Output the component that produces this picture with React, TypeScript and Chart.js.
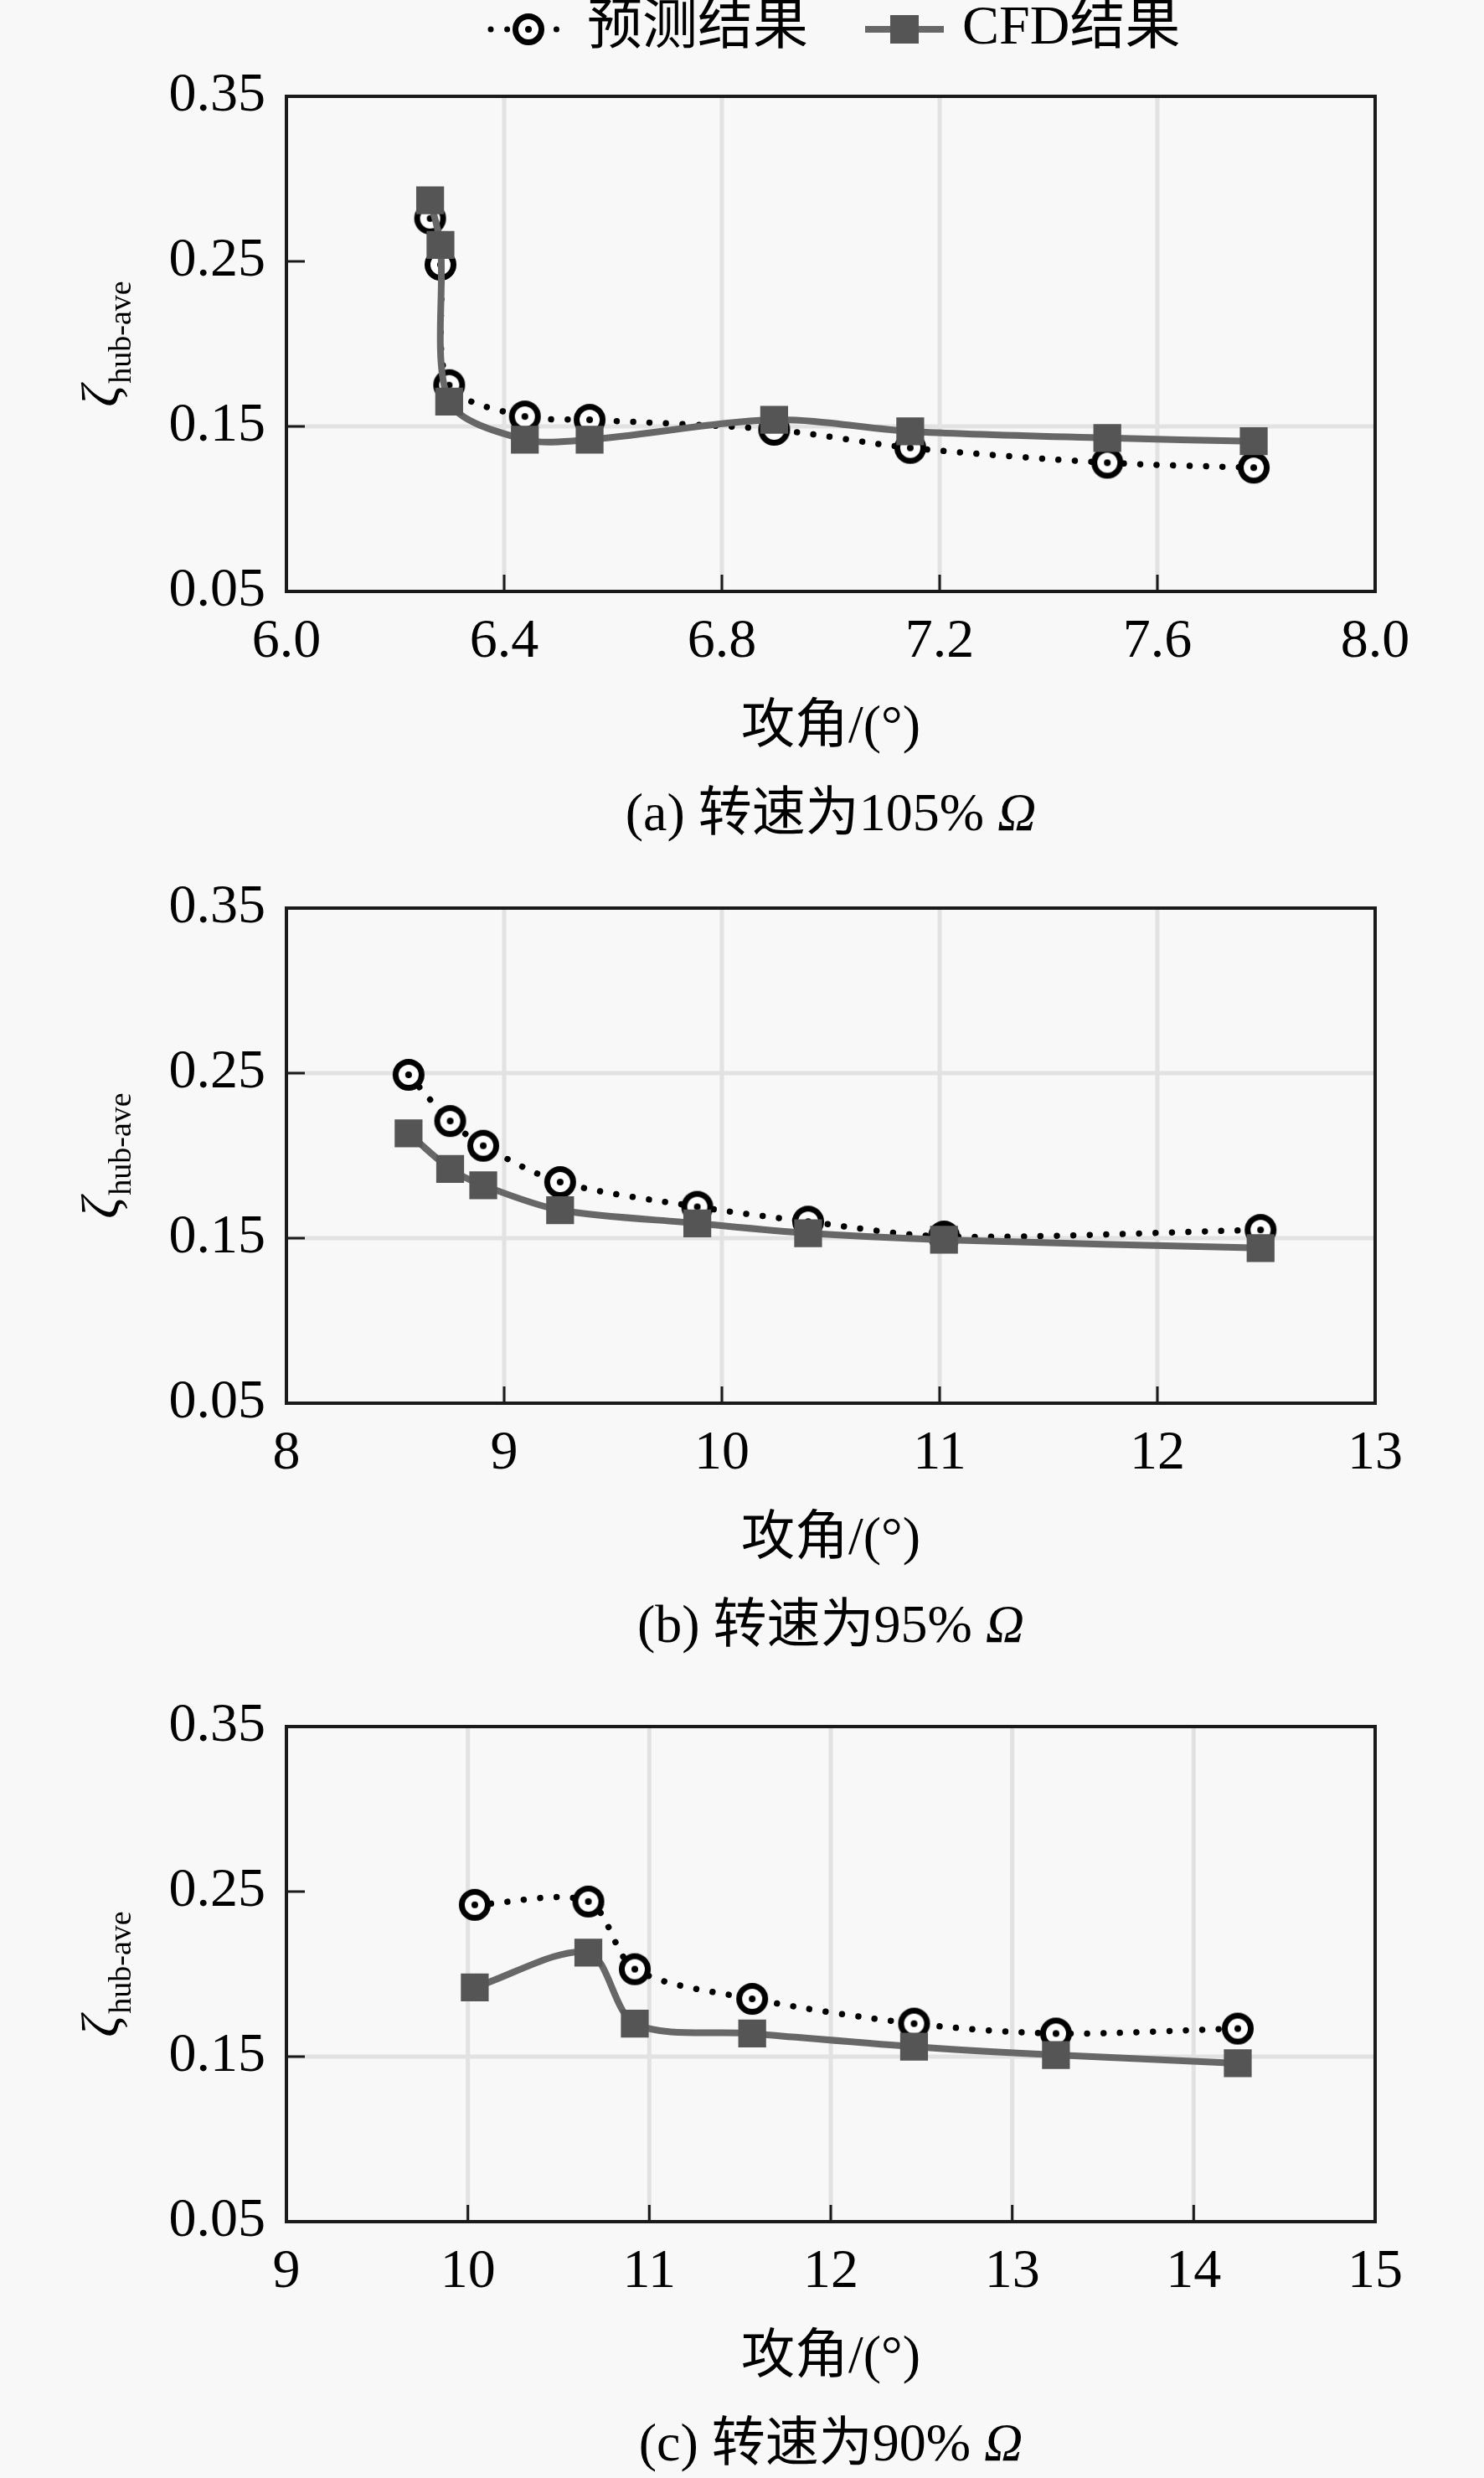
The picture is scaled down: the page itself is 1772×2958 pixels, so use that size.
import React, { useEffect, useRef } from 'react';
import { Chart, registerables } from 'chart.js';

Chart.register(...registerables);

// ---------------- data ----------------
const seriesNames = ['预测结果', 'CFD结果'];
const xTitle = '攻角/(°)';
const yTitleMain = 'ζ';
const yTitleSub = 'hub-ave';
const omega = 'Ω';

const yTicks = [0.05, 0.15, 0.25, 0.35];

// (a) 105%
const angleA = [6.264, 6.283, 6.299, 6.438, 6.557, 6.896, 7.146, 7.508, 7.777];
const predA = [0.276, 0.248, 0.175, 0.156, 0.154, 0.148, 0.137, 0.128, 0.125];
const cfdA = [0.287, 0.26, 0.165, 0.142, 0.142, 0.154, 0.147, 0.143, 0.141];
const xTicksA = [6.0, 6.4, 6.8, 7.2, 7.6, 8.0];
const captionA = '(a) 转速为105% ';

// (b) 95%
const angleB = [8.561, 8.752, 8.904, 9.257, 9.887, 10.396, 11.02, 12.474];
const predB = [0.249, 0.221, 0.206, 0.184, 0.169, 0.16, 0.151, 0.155];
const cfdB = [0.2135, 0.192, 0.182, 0.167, 0.159, 0.153, 0.149, 0.144];
const xTicksB = [8, 9, 10, 11, 12, 13];
const captionB = '(b) 转速为95% ';

// (c) 90%
const angleC = [10.038, 10.664, 10.92, 11.567, 12.459, 13.241, 14.243];
const predC = [0.242, 0.244, 0.203, 0.185, 0.17, 0.164, 0.167];
const cfdC = [0.192, 0.213, 0.17, 0.164, 0.156, 0.151, 0.146];
const xTicksC = [9, 10, 11, 12, 13, 14, 15];
const captionC = '(c) 转速为90% ';

// ---------------- styles ----------------
const SERIF = "'Liberation Serif', 'Times New Roman', 'Noto Sans CJK SC', serif";
const BG = '#f8f8f8';
const GRID = '#e2e2e2';
const FRAME = '#1a1a1a';
const CFD_LINE = '#676767';
const CFD_MARK = '#555555';
const PLOT_LEFT = 342;
const PLOT_RIGHT_PAD = 130;
const PLOT_H = 591;

type PanelCfg = {
  top: number;
  height: number;
  padTop: number;
  xs: number[];
  pred: number[];
  cfd: number[];
  xTicks: number[];
  xDecimals: number;
  yGrid: number[];
  caption: string;
  legend: boolean;
};

function makeCircleMarker(): HTMLCanvasElement {
  const c = document.createElement('canvas');
  c.width = 46;
  c.height = 46;
  const ctx = c.getContext('2d')!;
  ctx.beginPath();
  ctx.arc(23, 23, 15.5, 0, Math.PI * 2);
  ctx.fillStyle = '#ffffff';
  ctx.fill();
  ctx.lineWidth = 7;
  ctx.strokeStyle = '#000000';
  ctx.stroke();
  ctx.beginPath();
  ctx.arc(23, 23, 4, 0, Math.PI * 2);
  ctx.fillStyle = '#000000';
  ctx.fill();
  return c;
}

function Panel({ cfg }: { cfg: PanelCfg }) {
  const ref = useRef<HTMLCanvasElement>(null);

  useEffect(() => {
    const canvas = ref.current!;
    const marker = makeCircleMarker();
    const xmin = cfg.xTicks[0];
    const xmax = cfg.xTicks[cfg.xTicks.length - 1];

    const line = (ctx: CanvasRenderingContext2D, x1: number, y1: number, x2: number, y2: number) => {
      ctx.beginPath();
      ctx.moveTo(x1, y1);
      ctx.lineTo(x2, y2);
      ctx.stroke();
    };

    const plugin = {
      id: 'decor',
      beforeDatasetsDraw(chart: any) {
        const { ctx, chartArea: a, scales } = chart;
        const x = scales.x;
        const y = scales.y;
        ctx.save();
        ctx.strokeStyle = GRID;
        ctx.lineWidth = 5;
        for (const v of cfg.xTicks) {
          if (v <= xmin || v >= xmax) continue;
          const px = x.getPixelForValue(v);
          line(ctx, px, a.top, px, a.bottom);
        }
        for (const v of cfg.yGrid) {
          const py = y.getPixelForValue(v);
          line(ctx, a.left, py, a.right, py);
        }
        ctx.restore();
      },
      afterDatasetsDraw(chart: any) {
        const { ctx, chartArea: a, scales } = chart;
        const x = scales.x;
        const y = scales.y;
        ctx.save();
        ctx.strokeStyle = FRAME;
        ctx.lineWidth = 3;
        for (const v of cfg.xTicks) {
          if (v <= xmin || v >= xmax) continue;
          const px = x.getPixelForValue(v);
          line(ctx, px, a.bottom, px, a.bottom - 20);
        }
        for (const v of yTicks) {
          if (v <= yTicks[0] || v >= yTicks[yTicks.length - 1]) continue;
          const py = y.getPixelForValue(v);
          line(ctx, a.left, py, a.left + 22, py);
        }
        ctx.lineWidth = 4;
        ctx.strokeRect(a.left, a.top, a.right - a.left, a.bottom - a.top);
        ctx.restore();
      },
      afterDraw(chart: any) {
        const { ctx, chartArea: a } = chart;
        const cx = (a.left + a.right) / 2;
        const cy = (a.top + a.bottom) / 2;
        ctx.save();
        ctx.fillStyle = '#000';

        // x title
        ctx.font = `64px ${SERIF}`;
        ctx.textAlign = 'center';
        ctx.textBaseline = 'middle';
        ctx.fillText(xTitle, cx, a.bottom + 163);

        // caption with italic Omega
        ctx.textAlign = 'left';
        ctx.font = `64px ${SERIF}`;
        const w1 = ctx.measureText(cfg.caption).width;
        ctx.font = `italic 64px ${SERIF}`;
        const w2 = ctx.measureText(omega).width;
        const sx = cx - (w1 + w2) / 2;
        ctx.font = `64px ${SERIF}`;
        ctx.fillText(cfg.caption, sx, a.bottom + 268);
        ctx.font = `italic 64px ${SERIF}`;
        ctx.fillText(omega, sx + w1, a.bottom + 268);

        // y title (rotated, with subscript)
        ctx.font = `italic 64px ${SERIF}`;
        const wz = ctx.measureText(yTitleMain).width;
        ctx.font = `38px ${SERIF}`;
        const ws = ctx.measureText(yTitleSub).width;
        ctx.save();
        ctx.translate(141, cy);
        ctx.rotate(-Math.PI / 2);
        ctx.textBaseline = 'alphabetic';
        ctx.textAlign = 'left';
        const st = -(wz + ws + 2) / 2;
        ctx.font = `italic 64px ${SERIF}`;
        ctx.fillText(yTitleMain, st, 0);
        ctx.font = `38px ${SERIF}`;
        ctx.fillText(yTitleSub, st + wz + 2, 15);
        ctx.restore();

        // legend
        if (cfg.legend) {
          const ly = 35;
          ctx.save();
          ctx.strokeStyle = '#000';
          ctx.lineWidth = 7;
          ctx.lineCap = 'round';
          ctx.setLineDash([0.01, 19.6]);
          line(ctx, 586, ly, 676, ly);
          ctx.restore();
          ctx.drawImage(marker, 631 - 23, ly - 23);
          ctx.font = `66px ${SERIF}`;
          ctx.textAlign = 'left';
          ctx.textBaseline = 'middle';
          ctx.fillText(seriesNames[0], 701, ly);

          ctx.save();
          ctx.strokeStyle = CFD_LINE;
          ctx.lineWidth = 8;
          line(ctx, 1033, ly, 1127, ly);
          ctx.restore();
          ctx.fillStyle = CFD_MARK;
          ctx.fillRect(1080 - 17, ly - 17, 34, 34);
          ctx.fillStyle = '#000';
          ctx.fillText(seriesNames[1], 1149, ly);
        }
        ctx.restore();
      },
    };

    const xAxisH = cfg.height - cfg.padTop - PLOT_H;

    const chart = new Chart(canvas, {
      type: 'line',
      data: {
        datasets: [
          {
            label: seriesNames[0],
            data: cfg.xs.map((v, i) => ({ x: v, y: cfg.pred[i] })),
            borderColor: '#000000',
            borderWidth: 7.5,
            borderDash: [0.01, 19.6],
            borderCapStyle: 'round',
            pointStyle: marker as any,
            pointRadius: 19,
            tension: 0.3,
            fill: false,
            order: 2,
          },
          {
            label: seriesNames[1],
            data: cfg.xs.map((v, i) => ({ x: v, y: cfg.cfd[i] })),
            borderColor: CFD_LINE,
            borderWidth: 8,
            pointStyle: 'rect',
            pointRadius: 23.5,
            pointBackgroundColor: CFD_MARK,
            pointBorderColor: CFD_MARK,
            pointBorderWidth: 0,
            tension: 0.3,
            fill: false,
            order: 1,
          },
        ],
      },
      options: {
        animation: false,
        responsive: false,
        maintainAspectRatio: false,
        layout: { padding: { top: cfg.padTop, right: PLOT_RIGHT_PAD, left: 0, bottom: 0 } },
        plugins: { legend: { display: false }, title: { display: false }, tooltip: { enabled: false } },
        scales: {
          x: {
            type: 'linear',
            min: xmin,
            max: xmax,
            grid: { display: false, drawTicks: false },
            border: { display: false },
            afterBuildTicks: (s: any) => {
              s.ticks = cfg.xTicks.map((v) => ({ value: v }));
            },
            afterFit: (s: any) => {
              s.height = xAxisH;
            },
            ticks: {
              autoSkip: false,
              maxRotation: 0,
              padding: 21,
              color: '#000',
              font: { family: SERIF, size: 66 },
              callback: (v: any) => Number(v).toFixed(cfg.xDecimals),
            },
          },
          y: {
            type: 'linear',
            min: yTicks[0],
            max: yTicks[yTicks.length - 1],
            grid: { display: false, drawTicks: false },
            border: { display: false },
            afterBuildTicks: (s: any) => {
              s.ticks = yTicks.map((v) => ({ value: v }));
            },
            afterFit: (s: any) => {
              s.width = PLOT_LEFT;
            },
            ticks: {
              autoSkip: false,
              padding: 25,
              color: '#000',
              font: { family: SERIF, size: 66 },
              callback: (v: any) => Number(v).toFixed(2),
            },
          },
        },
      },
      plugins: [plugin],
    } as any);

    return () => chart.destroy();
  }, []);

  return (
    <canvas
      ref={ref}
      width={1772}
      height={cfg.height}
      style={{ position: 'absolute', left: 0, top: cfg.top, width: 1772, height: cfg.height, display: 'block' }}
    />
  );
}

const panels: PanelCfg[] = [
  { top: 0, height: 1010, padTop: 115, xs: angleA, pred: predA, cfd: cfdA, xTicks: xTicksA, xDecimals: 1, yGrid: [0.15], caption: captionA, legend: true },
  { top: 1010, height: 980, padTop: 74, xs: angleB, pred: predB, cfd: cfdB, xTicks: xTicksB, xDecimals: 0, yGrid: [0.15, 0.25], caption: captionB, legend: false },
  { top: 1990, height: 968, padTop: 71, xs: angleC, pred: predC, cfd: cfdC, xTicks: xTicksC, xDecimals: 0, yGrid: [0.15], caption: captionC, legend: false },
];

export default function App() {
  return (
    <div style={{ position: 'absolute', left: 0, top: 0, width: 1772, height: 2958, background: BG, overflow: 'hidden' }}>
      {panels.map((p, i) => (
        <Panel key={i} cfg={p} />
      ))}
    </div>
  );
}
